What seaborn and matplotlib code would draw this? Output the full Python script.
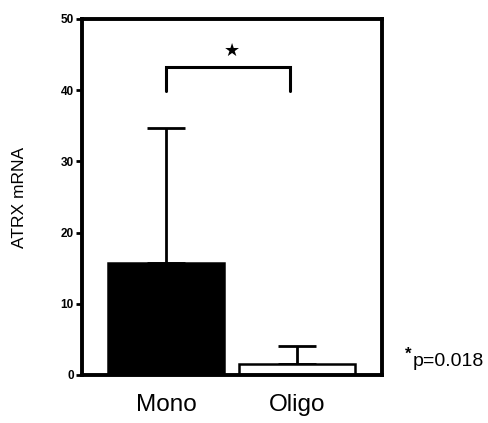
import matplotlib
matplotlib.use("Agg")
import matplotlib.pyplot as plt
import seaborn as sns
import pandas as pd
import numpy as np

categories = ["Mono", "Oligo"]
means = [15.7, 1.5]
upper_err = [19.0, 2.6]
bar_colors = ["black", "white"]
yticks = [0, 10, 20, 30, 40, 50]
p_value = "p=0.018"

sns.set_theme(style="white")
plt.rcParams['font.family'] = ['Liberation Sans', 'DejaVu Sans']
plt.rcParams['text.color'] = 'black'
plt.rcParams['axes.labelcolor'] = 'black'
plt.rcParams['xtick.color'] = 'black'
plt.rcParams['ytick.color'] = 'black'

fig = plt.figure(figsize=(4.89, 4.23), dpi=100)
ax = fig.add_axes([0.1677, 0.1135, 0.614, 0.8416])

df = pd.DataFrame({"group": categories, "value": means})
sns.barplot(data=df, x="group", y="value", hue="group", palette=bar_colors,
            edgecolor="black", linewidth=1.8, width=0.89, legend=False, ax=ax,
            errorbar=None)
xs = np.arange(len(categories))
ax.errorbar(xs, means, yerr=[np.zeros(len(means)), upper_err], fmt="none",
            ecolor="black", elinewidth=2.0, capsize=14, capthick=2.0, zorder=0.5)

ax.set_xlim(-0.644, 1.655)
ax.set_ylim(0, 50)
ax.set_yticks(yticks)
ax.set_yticklabels([str(t) for t in yticks], fontsize=8.5, fontweight="bold")
ax.tick_params(axis="y", direction="out", length=4, width=2, left=True, pad=2)
ax.tick_params(axis="x", length=0, pad=14, labelsize=17.5)
ax.set_xlabel("")
ax.set_ylabel("ATRX mRNA", fontsize=12.5, labelpad=24)
for s in ax.spines.values():
    s.set_visible(True)
    s.set_linewidth(2.8)
    s.set_color("black")

# significance bracket
y_low, y_top = 39.9, 43.3
ax.plot([0, 0, 0.95, 0.95], [y_low, y_top, y_top, y_low], color="black", lw=2.2,
        solid_joinstyle="miter", clip_on=False)
ax.text(0.5, 44.3, "\u2605", ha="center", va="bottom", fontsize=13,
        family=["DejaVu Sans"])

fig.text(0.843, 0.145, p_value, fontsize=14, ha="left", va="center")
fig.text(0.828, 0.162, "*", fontsize=12, fontweight="bold", ha="left", va="center")

fig.savefig("out.png", dpi=100, facecolor="white")
